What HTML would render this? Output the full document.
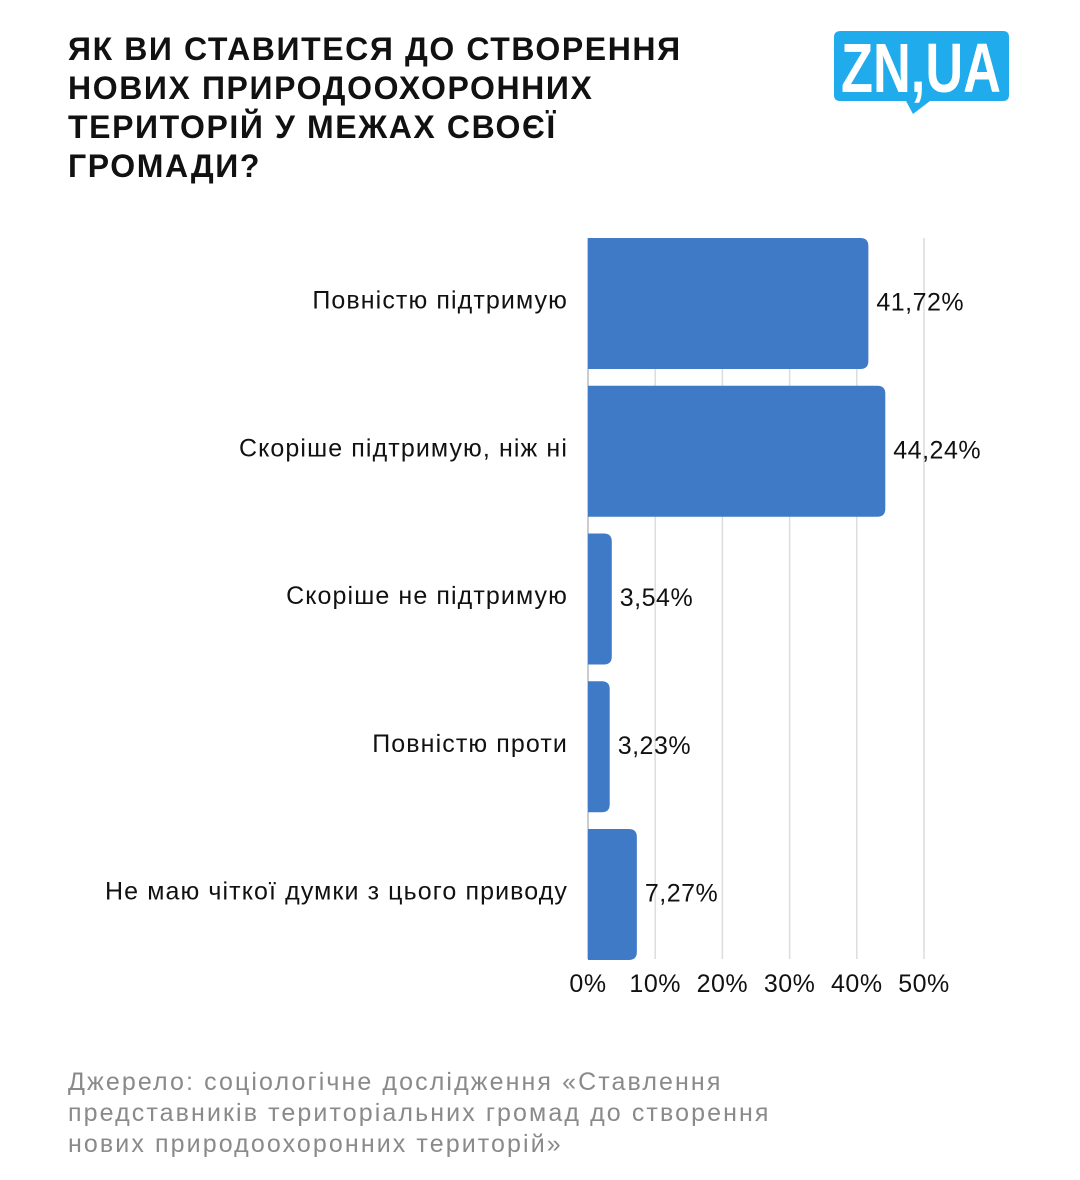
<!DOCTYPE html>
<html><head><meta charset="utf-8"><style>
body{margin:0;width:1080px;height:1180px;background:#fff;font-family:"Liberation Sans",sans-serif;position:relative;overflow:hidden}
#title{position:absolute;left:68px;top:30px;font-weight:bold;font-size:32px;line-height:39px;letter-spacing:1.6px;color:#111;margin:0}
#source{position:absolute;left:68px;top:1067px;font-size:25px;line-height:31px;letter-spacing:2.1px;color:#8a8a8a}
</style></head><body>
<h1 id="title">ЯК ВИ СТАВИТЕСЯ ДО СТВОРЕННЯ<br>НОВИХ ПРИРОДООХОРОННИХ<br>ТЕРИТОРІЙ У МЕЖАХ СВОЄЇ<br>ГРОМАДИ?</h1>
<svg style="position:absolute;left:0;top:0" width="1080" height="130">
<path d="M841 31 H1003 Q1009 31 1009 37 V95 Q1009 101 1003 101 H930 L913 114 L906 101 H840 Q834 101 834 95 V37 Q834 31 841 31Z" fill="#1fabec"/>
<text x="921" y="92" text-anchor="middle" font-family="Liberation Sans Narrow, Liberation Sans, sans-serif" font-weight="bold" font-size="70" fill="#fff" textLength="160" lengthAdjust="spacingAndGlyphs">ZN,UA</text>
</svg>
<svg id="chart" style="position:absolute;left:0;top:0" width="1080" height="1060"></svg>
<div id="source">Джерело: соціологічне дослідження «Ставлення<br>представників територіальних громад до створення<br>нових природоохоронних територій»</div>
<script>
const categories=["Повністю підтримую","Скоріше підтримую, ніж ні","Скоріше не підтримую","Повністю проти","Не маю чіткої думки з цього приводу"];
const values=[41.72,44.24,3.54,3.23,7.27];
const valueLabels=["41,72%","44,24%","3,54%","3,23%","7,27%"];
const ticks=[0,10,20,30,40,50];
const tickLabels=["0%","10%","20%","30%","40%","50%"];
const NS="http://www.w3.org/2000/svg";
const svg=document.getElementById('chart');
const x0=588,pxPer=6.72,top0=238,bottom=959,step=147.75,bh=131;
const xs=v=>x0+v*pxPer;
const ys=i=>top0+i*step;
function mk(t,a){const e=document.createElementNS(NS,t);for(const k in a)e.setAttribute(k,a[k]);svg.appendChild(e);return e;}
ticks.forEach((t,i)=>{
  const l=mk('line',{x1:xs(t),x2:xs(t),y1:top0,y2:bottom,stroke:i==0?'#bbb':'#dcdcdc','stroke-width':1.5});
  
  
  const tx=mk('text',{x:xs(t),y:992,'text-anchor':'middle','font-size':25,'letter-spacing':0.5,fill:'#111','font-family':'Liberation Sans, sans-serif'});
  tx.textContent=tickLabels[i];
  
  
});
values.forEach((v,i)=>{
  const y=ys(i),w=xs(v)-x0,r=Math.min(8,w/2);
  const b=mk('path',{d:`M${x0} ${y} H${x0+w-r} Q${x0+w} ${y} ${x0+w} ${y+r} V${y+bh-r} Q${x0+w} ${y+bh} ${x0+w-r} ${y+bh} H${x0} Z`,fill:'#3f7ac6'});
  
  
  const c=mk('text',{x:568,y:y+bh/2+5,'text-anchor':'end','font-size':25,'letter-spacing':1.1,fill:'#111','font-family':'Liberation Sans, sans-serif'});
  c.textContent=categories[i];
  
  
  const vl=mk('text',{x:xs(v)+8,y:y+bh/2+7,'font-size':25,'letter-spacing':0.5,fill:'#111','font-family':'Liberation Sans, sans-serif'});
  vl.textContent=valueLabels[i];
  
  
});
</script>
</body></html>
